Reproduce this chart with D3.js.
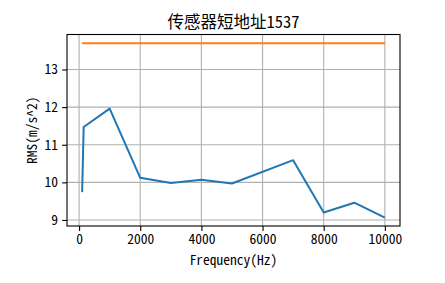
<!DOCTYPE html>
<html lang="zh">
<head>
<meta charset="utf-8">
<script src="https://d3js.org/d3.v7.min.js"></script>
<style>
body { margin: 0; background: #fff; }
text { font-family: "Noto Sans Mono CJK SC", "Noto Sans CJK SC", sans-serif; }
</style>
</head>
<body>
<script>
// data
var freq = [100, 150, 1000, 2000, 3000, 4000, 5000, 7000, 8000, 9000, 10000];
var rms = [9.74, 11.47, 11.96, 10.12, 9.98, 10.07, 9.97, 10.59, 9.2, 9.46, 9.06];
var limit = [13.7, 13.7];
var limitFreq = [100, 10000];
var xTicks = [0, 2000, 4000, 6000, 8000, 10000];
var yTicks = [9, 10, 11, 12, 13];

var w = 445, h = 283;
var mLeft = 67, mRight = 400, mTop = 34.5, mBottom = 226;

var svg = d3.select("body").append("svg")
  .attr("width", w).attr("height", h);

var xScale = d3.scaleLinear().domain([-395, 10495]).range([mLeft, mRight]);
var yScale = d3.scaleLinear().domain([8.84, 13.93]).range([mBottom, mTop]);

// grid
svg.append("g").selectAll("line").data(xTicks).enter().append("line")
  .attr("x1", function(d) { return xScale(d); }).attr("x2", function(d) { return xScale(d); })
  .attr("y1", mTop).attr("y2", mBottom)
  .attr("stroke", "#b0b0b0").attr("stroke-width", 1.1);
svg.append("g").selectAll("line").data(yTicks).enter().append("line")
  .attr("y1", function(d) { return yScale(d); }).attr("y2", function(d) { return yScale(d); })
  .attr("x1", mLeft).attr("x2", mRight)
  .attr("stroke", "#b0b0b0").attr("stroke-width", 1.1);

// lines
var line = d3.line()
  .x(function(d) { return xScale(d[0]); })
  .y(function(d) { return yScale(d[1]); });

svg.append("path")
  .datum(d3.zip(freq, rms))
  .attr("d", line)
  .attr("fill", "none").attr("stroke", "#1f77b4").attr("stroke-width", 2)
  .attr("stroke-linejoin", "round");

svg.append("path")
  .datum(d3.zip(limitFreq, limit))
  .attr("d", line)
  .attr("fill", "none").attr("stroke", "#ff7f0e").attr("stroke-width", 2);

// axes
var xAxis = d3.axisBottom(xScale).tickValues(xTicks).tickSize(4.9).tickPadding(4).tickFormat(d3.format("d"));
var yAxis = d3.axisLeft(yScale).tickValues(yTicks).tickSize(4.9).tickPadding(4).tickFormat(d3.format("d"));

var gx = svg.append("g").attr("transform", "translate(0," + mBottom + ")").call(xAxis);
var gy = svg.append("g").attr("transform", "translate(" + mLeft + ",0)").call(yAxis);
[gx, gy].forEach(function(g) {
  g.select(".domain").remove();
  g.selectAll("text").attr("font-size", "13.5px").attr("fill", "#000")
    .style("font-family", "'Noto Sans Mono CJK SC', 'Noto Sans CJK SC', sans-serif");
  g.selectAll("line").attr("stroke", "#000").attr("stroke-width", 1.1);
});

// frame
svg.append("rect")
  .attr("x", mLeft).attr("y", mTop)
  .attr("width", mRight - mLeft).attr("height", mBottom - mTop)
  .attr("fill", "none").attr("stroke", "#000").attr("stroke-width", 1.1);

// labels
svg.append("text")
  .attr("x", (mLeft + mRight) / 2).attr("y", 28)
  .attr("text-anchor", "middle").attr("font-size", "16.5px")
  .text("传感器短地址1537");

svg.append("text")
  .attr("x", (mLeft + mRight) / 2).attr("y", 265)
  .attr("text-anchor", "middle").attr("font-size", "13.5px")
  .text("Frequency(Hz)");

svg.append("text")
  .attr("transform", "translate(37," + ((mTop + mBottom) / 2) + ") rotate(-90)")
  .attr("text-anchor", "middle").attr("font-size", "13.5px")
  .text("RMS(m/s^2)");
</script>
</body>
</html>
